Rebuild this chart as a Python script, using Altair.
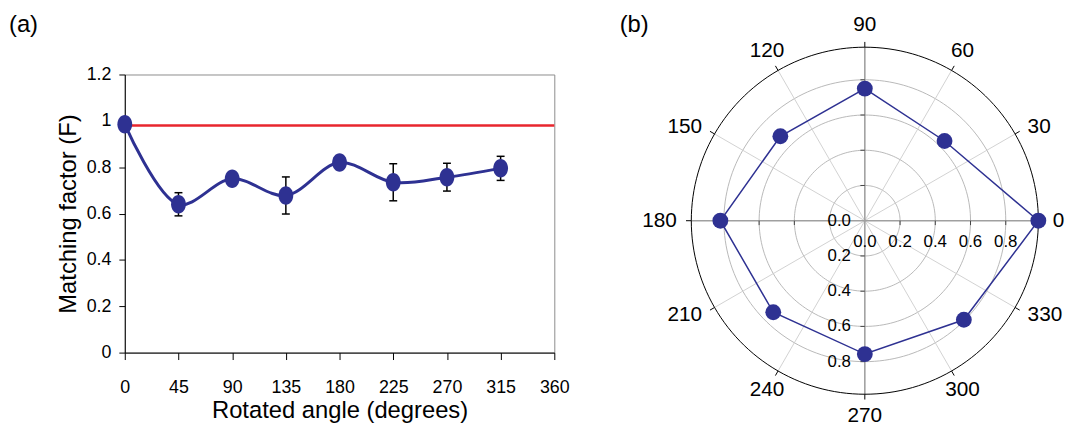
import math
import altair as alt
import pandas as pd

# ---------------- data ----------------
angles = [0, 45, 90, 135, 180, 225, 270, 315]
factor = [0.985, 0.64, 0.75, 0.678, 0.82, 0.735, 0.757, 0.795]
errors = [0.0, 0.05, 0.0, 0.08, 0.0, 0.08, 0.06, 0.052]
reference_level = [0.98]

x_tick_values = [0, 45, 90, 135, 180, 225, 270, 315, 360]
y_tick_values = [0, 0.2, 0.4, 0.6, 0.8, 1.0, 1.2]

polar_angles = [0, 30, 60, 90, 120, 150, 180, 210, 240, 270, 300, 330]
ring_levels = [0.2, 0.4, 0.6, 0.8]
outer_level = [0.985]
radial_labels = [0.0, 0.2, 0.4, 0.6, 0.8]
axis_tick_levels = [-0.8, -0.6, -0.4, -0.2, 0.2, 0.4, 0.6, 0.8]
panel_labels = ["(a)", "(b)"]

BLUE = "#2E3192"
RED = "#E8262E"
FONT = "Liberation Sans"

# ---------------- panel (a) ----------------
df = pd.DataFrame({"angle": angles, "F": factor, "err": errors})
ref_df = pd.DataFrame({"F": reference_level})

x_scale = alt.Scale(domain=[0, 360], nice=False, zero=False)
y_scale = alt.Scale(domain=[0, 1.2], nice=False)
x_axis = alt.Axis(values=x_tick_values, title="Rotated angle (degrees)", grid=False,
                  domainColor="black", tickColor="black", tickSize=7, labelFontSize=18,
                  labelPadding=19, labelColor="black", labelFlush=False, labelOverlap=False,
                  titleFontSize=24, titleFontWeight="normal", titleColor="black",
                  titlePadding=3, format="d")
y_axis = alt.Axis(values=y_tick_values, title="Matching factor (F)", grid=False,
                  domainColor="black", tickColor="black", tickSize=6, labelFontSize=18,
                  labelPadding=8, labelColor="black", labelFlush=False, labelOverlap=False,
                  titleFontSize=24, titleFontWeight="normal", titleColor="black",
                  titlePadding=6, format="~g")


def AX(field):
    return alt.X(field, type="quantitative", scale=x_scale, axis=x_axis)


def AY(field):
    return alt.Y(field, type="quantitative", scale=y_scale, axis=y_axis)


ref_line = alt.Chart(ref_df).mark_rule(color=RED, strokeWidth=2.5).encode(
    x=alt.X(datum=0, type="quantitative", scale=x_scale, axis=x_axis),
    x2=alt.X2(datum=360),
    y=AY("F"),
)
curve = alt.Chart(df).mark_line(interpolate="catmull-rom", color=BLUE, strokeWidth=3).encode(
    x=AX("angle"), y=AY("F")
)
eb = alt.Chart(df).transform_filter("datum.err > 0").transform_calculate(
    lo="datum.F - datum.err", hi="datum.F + datum.err"
)
err_rule = eb.mark_rule(color="black", strokeWidth=1.5).encode(
    x=AX("angle"), y=AY("lo"), y2=alt.Y2("hi:Q")
)
cap_lo = eb.mark_tick(orient="horizontal", size=8, thickness=1.5, color="black", opacity=1).encode(
    x=AX("angle"), y=AY("lo")
)
cap_hi = eb.mark_tick(orient="horizontal", size=8, thickness=1.5, color="black", opacity=1).encode(
    x=AX("angle"), y=AY("hi")
)
ellipse = "M -0.8 0 A 0.8 1 0 1 1 0.8 0 A 0.8 1 0 1 1 -0.8 0 Z"
markers = alt.Chart(df).mark_point(shape=ellipse, filled=True, size=350, color=BLUE, opacity=1).encode(
    x=AX("angle"), y=AY("F")
)
label_a = alt.Chart(pd.DataFrame({"t": [panel_labels[0]]})).mark_text(
    align="left", baseline="alphabetic", fontSize=24, font=FONT, color="black"
).encode(x=alt.value(-117), y=alt.value(-43), text="t:N")

left = alt.layer(ref_line, curve, err_rule, cap_lo, cap_hi, markers, label_a).properties(
    width=434, height=281,
    view=alt.ViewBackground(stroke="#8c8c8c", strokeWidth=1),
)

# ---------------- panel (b) polar ----------------
P = 178.0          # pixels per unit radius
HALF = 0.83        # half extent of the frame in radius units
R_OUT = outer_level[0]

p_scale_x = alt.Scale(domain=[-HALF, HALF], nice=False, zero=False)
p_scale_y = alt.Scale(domain=[-HALF, HALF], nice=False, zero=False)


def PX(field):
    return alt.X(field, type="quantitative", scale=p_scale_x, axis=None)


def PY(field):
    return alt.Y(field, type="quantitative", scale=p_scale_y, axis=None)


def ring(r, color, width):
    return alt.Chart(alt.sequence(0, 361, 2, as_="t")).transform_calculate(
        cx=f"{r} * cos(datum.t * PI / 180)", cy=f"{r} * sin(datum.t * PI / 180)"
    ).mark_line(color=color, strokeWidth=width, interpolate="linear").encode(
        x=PX("cx"), y=PY("cy"), order="t:Q"
    )


rings = [ring(r, "#b0b0b0", 0.9) for r in ring_levels]
outer = ring(R_OUT, "black", 1)

spoke_base = alt.Chart(pd.DataFrame({"angle": polar_angles})).transform_calculate(
    rad="datum.angle * PI / 180"
).transform_calculate(
    x0="0", y0="0",
    x1=f"{R_OUT} * cos(datum.rad)", y1=f"{R_OUT} * sin(datum.rad)",
    x2=f"{R_OUT + 0.03} * cos(datum.rad)", y2=f"{R_OUT + 0.03} * sin(datum.rad)",
)
minor_spokes = spoke_base.transform_filter("datum.angle % 90 != 0").mark_rule(
    color="#cccccc", strokeWidth=0.9
).encode(x=PX("x0"), y=PY("y0"), x2=alt.X2("x1:Q"), y2=alt.Y2("y1:Q"))
major_spokes = spoke_base.transform_filter("datum.angle % 90 == 0").mark_rule(
    color="#a0a0a0", strokeWidth=1.6
).encode(x=PX("x0"), y=PY("y0"), x2=alt.X2("x1:Q"), y2=alt.Y2("y1:Q"))
outer_ticks = spoke_base.mark_rule(color="black", strokeWidth=1).encode(
    x=PX("x1"), y=PY("y1"), x2=alt.X2("x2:Q"), y2=alt.Y2("y2:Q")
)

tick_base = alt.Chart(pd.DataFrame({"v": axis_tick_levels}))
h_ticks = tick_base.transform_calculate(a="0", b="-0.025").mark_rule(color="#444444", strokeWidth=1).encode(
    x=PX("v"), x2=alt.X2("v:Q"), y=PY("a"), y2=alt.Y2("b:Q")
)
v_ticks = tick_base.transform_calculate(a="0", b="-0.025").mark_rule(color="#444444", strokeWidth=1).encode(
    y=PY("v"), y2=alt.Y2("v:Q"), x=PX("a"), x2=alt.X2("b:Q")
)

poly_base = alt.Chart(df).transform_calculate(
    rad="datum.angle * PI / 180"
).transform_calculate(
    px="datum.F * cos(datum.rad)", py="datum.F * sin(datum.rad)"
)
poly_line = poly_base.mark_line(interpolate="linear-closed", color=BLUE, strokeWidth=1.5).encode(
    x=PX("px"), y=PY("py"), order="angle:Q"
)
poly_pts = poly_base.mark_circle(size=256, color=BLUE, opacity=1).encode(x=PX("px"), y=PY("py"))

lab_base = alt.Chart(pd.DataFrame({"angle": polar_angles})).transform_calculate(
    rad="datum.angle * PI / 180"
).transform_calculate(
    c="cos(datum.rad)", s="sin(datum.rad)"
)
side_labels = lab_base.transform_calculate(
    lx="1.067 * datum.c", ly="1.067 * datum.s"
)
lab_right = side_labels.transform_filter("datum.c > 0.8").mark_text(
    align="left", baseline="middle", fontSize=21, font=FONT, color="black"
).encode(x=PX("lx"), y=PY("ly"), text=alt.Text("angle:Q", format="d"))
lab_left = side_labels.transform_filter("datum.c < -0.8").mark_text(
    align="right", baseline="middle", fontSize=21, font=FONT, color="black"
).encode(x=PX("lx"), y=PY("ly"), text=alt.Text("angle:Q", format="d"))
lab_mid = lab_base.transform_filter("abs(datum.c) <= 0.8").transform_calculate(
    lx="1.11 * datum.c", ly="1.11 * datum.s"
).mark_text(
    align="center", baseline="middle", fontSize=21, font=FONT, color="black"
).encode(x=PX("lx"), y=PY("ly"), text=alt.Text("angle:Q", format="d"))

rl = alt.Chart(pd.DataFrame({"v": radial_labels}))
rl_h = rl.transform_calculate(z="0").mark_text(
    align="center", baseline="middle", dy=22, fontSize=17, font=FONT, color="black"
).encode(x=PX("v"), y=PY("z"), text=alt.Text("v:Q", format=".1f"))
rl_v = rl.transform_calculate(z="0", nv="-datum.v").mark_text(
    align="right", baseline="middle", dx=-14, fontSize=17, font=FONT, color="black"
).encode(x=PX("z"), y=PY("nv"), text=alt.Text("v:Q", format=".1f"))

label_b = alt.Chart(pd.DataFrame({"t": [panel_labels[1]]})).mark_text(
    align="left", baseline="alphabetic", fontSize=24, font=FONT, color="black"
).encode(x=alt.value(-100), y=alt.value(-43), text="t:N")

right = alt.layer(
    *rings, minor_spokes, major_spokes, h_ticks, v_ticks, outer, outer_ticks,
    poly_line, poly_pts, lab_right, lab_left, lab_mid, rl_h, rl_v, label_b
).properties(
    width=2 * HALF * P, height=2 * HALF * P,
)

chart = alt.hconcat(left, right, spacing=166, bounds="flush").properties(
    padding={"left": 0, "top": 2, "right": 0, "bottom": 0}
).configure(font=FONT).configure_view(strokeWidth=0)

chart.save("out.html", embed_options={"renderer": "svg", "actions": False})
